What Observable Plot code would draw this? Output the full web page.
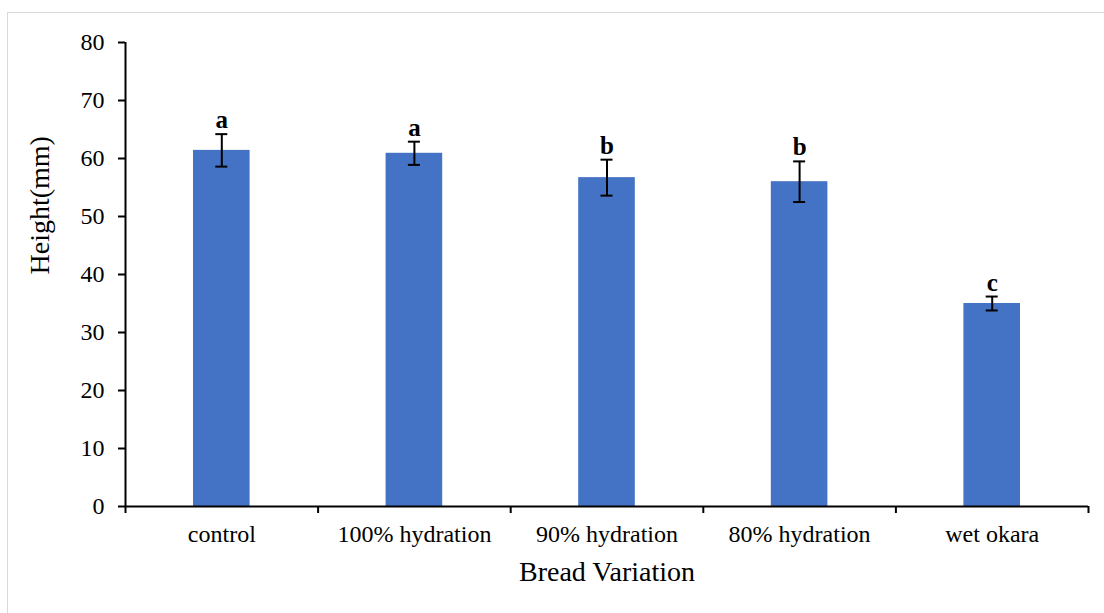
<!DOCTYPE html>
<html>
<head>
<meta charset="utf-8">
<script src="https://cdn.jsdelivr.net/npm/d3@7"></script>
<script src="https://cdn.jsdelivr.net/npm/@observablehq/plot@0.6"></script>
<style>
  body { margin: 0; background: #fff; }
  #wrap { position: relative; width: 1104px; height: 613px; overflow: hidden; }
  #border { position: absolute; left: 7px; top: 12px; width: 1120px; height: 640px; border: 1px solid #d9d9d9; box-sizing: border-box; pointer-events: none; }
  #chart { position: absolute; left: 0; top: 0; }
</style>
</head>
<body>
<div id="wrap"><div id="border"></div><div id="chart"></div></div>
<script>
const categories = ["control", "100% hydration", "90% hydration", "80% hydration", "wet okara"];
const heights = [61.4, 60.9, 56.7, 56.0, 35.0];
const errors = [2.8, 2.0, 3.1, 3.5, 1.2];
const letters = ["a", "a", "b", "b", "c"];
const yTicks = [0, 10, 20, 30, 40, 50, 60, 70, 80];

const data = categories.map((c, i) => ({i, c, v: heights[i], e: errors[i], l: letters[i]}));
const serif = "'Liberation Serif', 'Times New Roman', serif";

const plot = Plot.plot({
  width: 1104,
  height: 613,
  marginLeft: 125,
  marginRight: 16,
  marginTop: 42,
  marginBottom: 107,
  style: {fontFamily: serif, background: "transparent"},
  x: {domain: [0, categories.length], axis: null},
  y: {domain: [0, 80], axis: null},
  marks: [
    Plot.rectY(data, {x1: d => d.i, x2: d => d.i + 1, y: "v", insetLeft: 68, insetRight: 68, fill: "#4472C4"}),
    Plot.ruleX(data, {x: d => d.i + 0.5, y1: d => d.v - d.e, y2: d => d.v + d.e, stroke: "#000", strokeWidth: 2}),
    Plot.ruleY(data, {y: d => d.v + d.e, x1: d => d.i + 0.5, x2: d => d.i + 0.5, insetLeft: -6, insetRight: -6, stroke: "#000", strokeWidth: 2}),
    Plot.ruleY(data, {y: d => d.v - d.e, x1: d => d.i + 0.5, x2: d => d.i + 0.5, insetLeft: -6, insetRight: -6, stroke: "#000", strokeWidth: 2}),
    Plot.text(data, {x: d => d.i + 0.5, y: d => d.v + d.e, text: "l", lineAnchor: "bottom", dy: -6, fontSize: 25, fontWeight: "bold", fill: "#000"}),
    // axes
    Plot.ruleY([0], {stroke: "#000", strokeWidth: 2}),
    Plot.ruleX([0], {y1: 0, y2: 80, stroke: "#000", strokeWidth: 2}),
    Plot.axisY({ticks: yTicks, tickSize: 7, tickPadding: 14, fontSize: 24, tickFormat: d => String(d), label: null, stroke: "#000", strokeWidth: 2, color: "#000"}),
    Plot.axisX({ticks: d3.range(categories.length + 1), tickSize: 7, tickFormat: () => "", label: null, stroke: "#000", strokeWidth: 2}),
    Plot.text(data, {x: d => d.i + 0.5, text: "c", frameAnchor: "bottom", dy: 35, fontSize: 24, fill: "#000"}),
    Plot.text(["Bread Variation"], {frameAnchor: "bottom", dy: 74, fontSize: 28, fill: "#000"}),
    Plot.text(["Height(mm)"], {frameAnchor: "left", dx: -85, rotate: -90, fontSize: 28, fill: "#000"})
  ]
});
document.getElementById("chart").appendChild(plot);
</script>
</body>
</html>
